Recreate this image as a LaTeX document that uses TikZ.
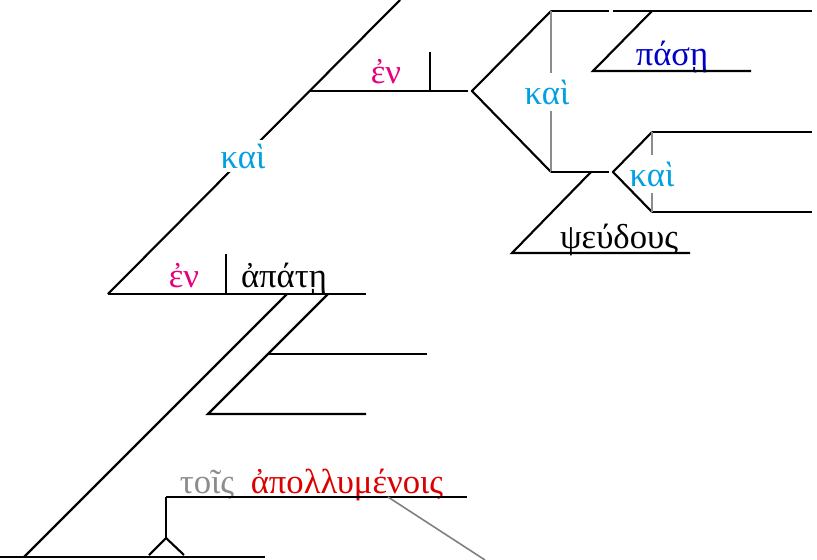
\documentclass[tikz,border=0pt]{standalone}
\usepackage{fontspec}
\setmainfont{Liberation Serif}
\usetikzlibrary{positioning}
\definecolor{prepcol}{RGB}{230,0,126}
\definecolor{conjcol}{RGB}{0,160,227}
\definecolor{adjcol}{RGB}{0,0,200}
\definecolor{partcol}{RGB}{220,0,0}
\definecolor{artcol}{RGB}{140,140,140}
\tikzset{
  word/.style={anchor=base,inner sep=0pt,font=\fontsize{26}{30}\selectfont},
  conj/.style={word,text=conjcol,fill=white,inner xsep=1pt,inner ysep=5pt},
  guide/.style={line width=1.5pt,artcol}
}

\begin{document}
\begin{tikzpicture}[x=.75pt,y=-.75pt,line width=1.6pt]
            \useasboundingbox (0,0) rectangle (817,560);
            % words
            \node[word,text=prepcol] (en1) at (386,84) {ἐν};
            \node[word,text=adjcol] (pase) at (672,66) {πάσῃ};
            \node[conj,fill=none,inner ysep=4pt] (kai2) at (652,186) {καὶ};
            \node[word] (pseudous) at (619,248) {ψεύδους};
            \node[word,text=prepcol] (en2) at (184,287) {ἐν};
            \node[word] (apate) at (284,287) {ἀπάτῃ};
            \node[word,text=artcol] (tois) at (207,493) {τοῖς};
            \node[word,text=partcol] (apoll) at (347,493) {ἀπολλυμένοις};
            % upper phrase
            \coordinate (ua) at (108,294);
            \coordinate (ub) at (310,91);
            \draw (ua) -- (400,0);
            \draw (ub) -- (468,91);
            \draw (430,52) -- (430,91);
            \coordinate (fa) at (472,91);
            \draw (551,11) -- (fa) -- (551,172);
            \draw (551,11) -- (609,11);
            \draw (613,11) -- (812,11);
            \draw[guide] (551,11) -- (551,172);
            \draw (652,11) -- (593,71) -- (751,71);
            \draw (551,172) -- (609,172);
            \draw (652,132) -- (613,172) -- (652,212);
            \draw (652,132) -- (812,132);
            \draw (652,212) -- (812,212);
            \draw[guide] (652,132) -- (kai2.north);
            \draw[guide] (kai2.south) -- (652,212);
            \draw (591,172) -- (512,253) -- (690,253);
            % lower phrase
            \draw (ua) -- (366,294);
            \draw (226,254) -- (226,294);
            \draw (287,294) -- (24,557);
            \draw (328,294) -- (208,414) -- (366,414);
            \draw (268,354) -- (427,354);
            \draw (0,557) -- (265,557);
            \draw (166,497) -- (467,497);
            \draw (166,497) -- (166,538);
            \draw (149,555) -- (166,538) -- (184,555);
            \draw[guide,line width=1.2pt,gray] (388,497) -- (485,560);
            % these cover the line under them
            \node[conj] (kai1) at (547,104) {καὶ};
            \node[conj,inner ysep=3pt] (kai3) at (243,168) {καὶ};
        \end{tikzpicture}
\end{document}
